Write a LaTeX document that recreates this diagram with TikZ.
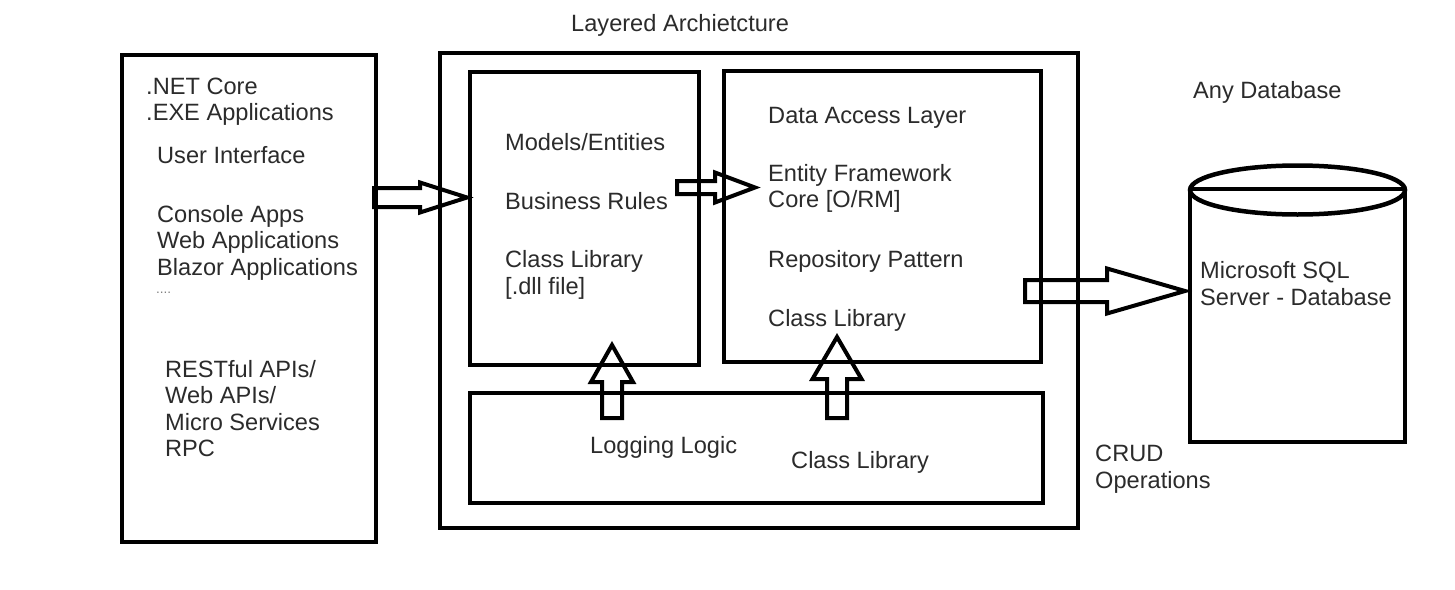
\documentclass[tikz,border=0pt]{standalone}
\usepackage{fontspec}
\setmainfont{Liberation Sans}
\usetikzlibrary{calc}
\definecolor{txtgray}{HTML}{2B2B2B}
\tikzset{
  box/.style={draw=black, line width=4.5pt, inner sep=0pt},
  blk/.style={draw=black, line width=4pt, line join=miter, miter limit=10},
  txt/.style={font=\fontsize{23.6}{26.5}\selectfont, text=txtgray, inner sep=0pt, align=left, anchor=base west},
  tiny/.style={font=\fontsize{13.5}{15}\selectfont, text=gray, inner sep=0pt, anchor=base west}
}
% horizontal block arrow: start, tip, shaft half-width, head half-width, head length
\newcommand\harrowblk[5]{%
  \draw[blk] ($(#1)+(0,-#3)$) -- ($(#2)+(-#5,-#3)$) -- ($(#2)+(-#5,-#4)$) -- (#2)
    -- ($(#2)+(-#5,#4)$) -- ($(#2)+(-#5,#3)$) -- ($(#1)+(0,#3)$) -- cycle;}
% vertical (upward) block arrow
\newcommand\varrowblk[5]{%
  \draw[blk] ($(#1)+(-#3,0)$) -- ($(#2)+(-#3,#5)$) -- ($(#2)+(-#4,#5)$) -- (#2)
    -- ($(#2)+(#4,#5)$) -- ($(#2)+(#3,#5)$) -- ($(#1)+(#3,0)$) -- cycle;}
\begin{document}
\begin{tikzpicture}[x=1pt,y=-1pt]
\useasboundingbox (0,0) rectangle (1455,589);
% boxes
\node[box, minimum width=254pt, minimum height=487pt] (ui) at (249,298.5) {};
\node[box, minimum width=638pt, minimum height=475pt] (layer) at (759,290.5) {};
\node[box, minimum width=229pt, minimum height=293pt] (bll) at (584.5,218.5) {};
\node[box, minimum width=317pt, minimum height=291pt] (dal) at (882.5,216.5) {};
\node[box, minimum width=573pt, minimum height=110pt] (logb) at (756.5,448) {};
% database cylinder
\coordinate (dbtl) at (1190,189);
\coordinate (dbtr) at (1405,189);
\coordinate (dbbl) at (1190,442);
\coordinate (dbbr) at (1405,442);
\draw[box] (dbtl) -- (dbbl) -- (dbbr) -- (dbtr);
\draw[box] (1297.5,190) ellipse [x radius=107.5, y radius=24.5];
\draw[box] (dbtl) -- (dbtr);
% block arrows
\coordinate (a1s) at (374,197.5); \coordinate (a1t) at (467,197.5);
\coordinate (a2s) at (677,187.5); \coordinate (a2t) at (755,187.5);
\coordinate (a3s) at (1025,291); \coordinate (a3t) at (1185,291);
\coordinate (u1s) at (612,418); \coordinate (u1t) at (612,345);
\coordinate (u2s) at (837,418); \coordinate (u2t) at (837,337);
\harrowblk{a1s}{a1t}{9.5}{15}{47}
\harrowblk{a2s}{a2t}{6.5}{15}{40}
\harrowblk{a3s}{a3t}{11}{22.5}{78}
\varrowblk{u1s}{u1t}{10}{21}{37}
\varrowblk{u2s}{u2t}{10}{24.5}{42}
% texts (base anchor = baseline of the last line)
\node[txt] (title) at (571,31) {Layered Archietcture};
\node[txt] (net) at (146,120.5) {.NET Core\\.EXE Applications};
\node[txt] (uitxt) at (157,163) {User Interface};
\node[txt] (apps) at (157,275) {Console Apps\\Web Applications\\Blazor Applications};
\node[tiny] (dots) at (156,293) {....};
\node[txt] (apis) at (165,456.5) {RESTful APIs/\\Web APIs/\\Micro Services\\RPC};
\node[txt] (models) at (505,150) {Models/Entities};
\node[txt] (rules) at (505,209) {Business Rules};
\node[txt] (cl1) at (505,294) {Class Library\\{[}.dll file{]}};
\node[txt] (daltxt) at (768,123) {Data Access Layer};
\node[txt] (ef) at (768,207.5) {Entity Framework\\Core {[}O/RM{]}};
\node[txt] (repo) at (768,267) {Repository Pattern};
\node[txt] (cl2) at (768,326) {Class Library};
\node[txt] (logl) at (590,453) {Logging Logic};
\node[txt] (cl3) at (791,468) {Class Library};
\node[txt] (anydb) at (1193,98) {Any Database};
\node[txt] (mssql) at (1200,305) {Microsoft SQL\\Server - Database};
\node[txt] (crud) at (1095,488) {CRUD\\Operations};
\end{tikzpicture}
\end{document}
